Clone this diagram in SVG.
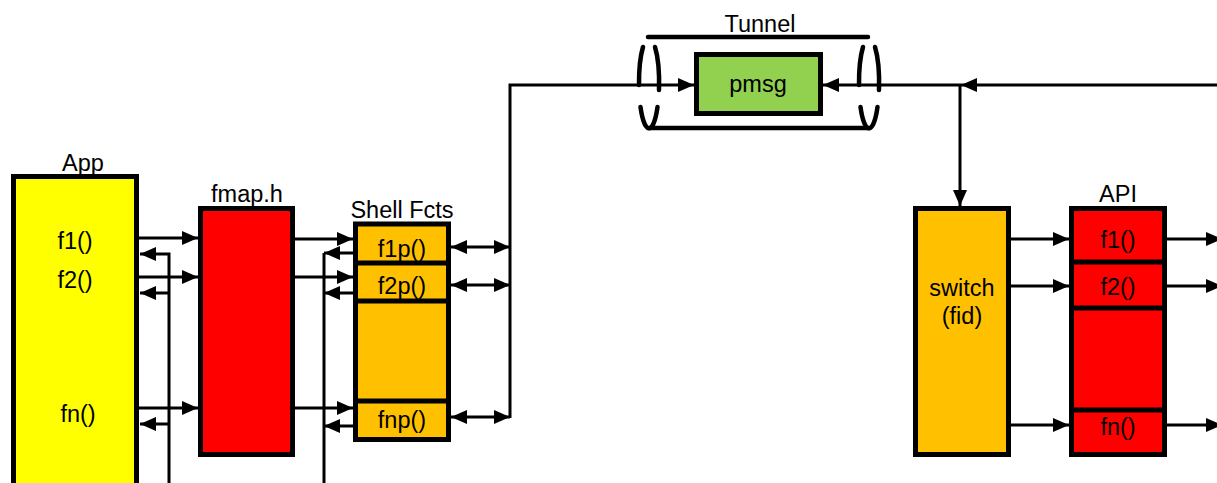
<svg xmlns="http://www.w3.org/2000/svg" width="1217" height="483" viewBox="0 0 1217 483">
<style>
text{font-family:"Liberation Sans",Arial,sans-serif;font-size:23.5px;fill:#000;text-anchor:middle}
.box{stroke:#000;stroke-width:5}
.div{stroke:#000;stroke-width:5;fill:none}
.ln{stroke:#000;stroke-width:3;fill:none}
.arr{marker-end:url(#ah)}
.dbl{marker-start:url(#ah);marker-end:url(#ah)}
.tn{stroke:#000;stroke-width:4.5;fill:none;stroke-linecap:round}
</style>
<defs>
<marker id="ah" markerUnits="userSpaceOnUse" viewBox="0 0 16 14" markerWidth="16" markerHeight="14" refX="16" refY="7" orient="auto-start-reverse">
<path d="M0,0 L16,7 L0,14 z" fill="#000"/>
</marker>
</defs>
<g id="app">
<rect class="box" x="13.5" y="176.5" width="123" height="320" fill="#FFFF00"/>
<text x="83" y="171">App</text>
<text x="75" y="249">f1()</text>
<text x="75" y="288">f2()</text>
<text x="78" y="422">fn()</text>
</g>
<g id="fmap">
<rect class="box" x="200.5" y="208.5" width="92" height="246" fill="#FF0000"/>
<text x="247" y="202">fmap.h</text>
</g>
<g id="shell">
<rect class="box" x="355.5" y="224" width="93" height="215.5" fill="#FFC000"/>
<path class="div" d="M353,263 H451 M353,301 H451 M353,401 H451"/>
<text x="402" y="218">Shell Fcts</text>
<text x="402" y="257">f1p()</text>
<text x="402" y="294">f2p()</text>
<text x="402" y="428">fnp()</text>
</g>
<g id="tunnel">
<path class="tn" d="M648,37 H868 M649,128 H869"/>
<path class="tn" d="M643,47 A10,45 0 0 0 639,85 M655,47 A10,45 0 0 1 659,90 M640.5,107 A10,45 0 0 0 657.5,107"/>
<path class="tn" d="M863,47 A10,45 0 0 0 859,85 M875,47 A10,45 0 0 1 879,90 M860.5,107 A10,45 0 0 0 877.5,107"/>
<text x="760" y="32">Tunnel</text>
</g>
<g id="pmsg">
<rect class="box" x="696.5" y="54.5" width="124" height="59" fill="#92D050"/>
<text x="758" y="92">pmsg</text>
</g>
<g id="switch">
<rect class="box" x="915.5" y="208.5" width="93" height="246" fill="#FFC000"/>
<text x="962" y="296">switch</text>
<text x="962" y="324">(fid)</text>
</g>
<g id="api">
<rect class="box" x="1071.5" y="208.5" width="93" height="246" fill="#FF0000"/>
<path class="div" d="M1069,262 H1167 M1069,308 H1167 M1069,410 H1167"/>
<text x="1118" y="202">API</text>
<text x="1118" y="248">f1()</text>
<text x="1118" y="295">f2()</text>
<text x="1118" y="435">fn()</text>
</g>
<g id="connectors">
<path class="ln arr" d="M139,238 H198"/>
<path class="ln arr" d="M139,277 H198"/>
<path class="ln arr" d="M139,408 H198"/>
<path class="ln arr" d="M169,490 V254 H140"/>
<path class="ln arr" d="M169,293 H140"/>
<path class="ln arr" d="M169,424 H140"/>
<path class="ln arr" d="M295,239 H353"/>
<path class="ln arr" d="M295,277 H353"/>
<path class="ln arr" d="M295,408 H353"/>
<path class="ln" d="M324,253 V490"/>
<path class="ln arr" d="M353,253 H324"/>
<path class="ln arr" d="M353,293 H324"/>
<path class="ln arr" d="M353,426 H324"/>
<path class="ln dbl" d="M451,247 H510"/>
<path class="ln dbl" d="M451,285 H510"/>
<path class="ln dbl" d="M451,417 H510"/>
<path class="ln arr" d="M510,418 V85 H694"/>
<path class="ln arr" d="M1225,85 H961"/>
<path class="ln arr" d="M961,85 H823"/>
<path class="ln arr" d="M960,85 V206"/>
<path class="ln arr" d="M1011,239 H1069"/>
<path class="ln arr" d="M1011,286 H1069"/>
<path class="ln arr" d="M1011,425 H1069"/>
<path class="ln arr" d="M1167,239 H1222"/>
<path class="ln arr" d="M1167,286 H1222"/>
<path class="ln arr" d="M1167,425 H1222"/>
</g>
</svg>
